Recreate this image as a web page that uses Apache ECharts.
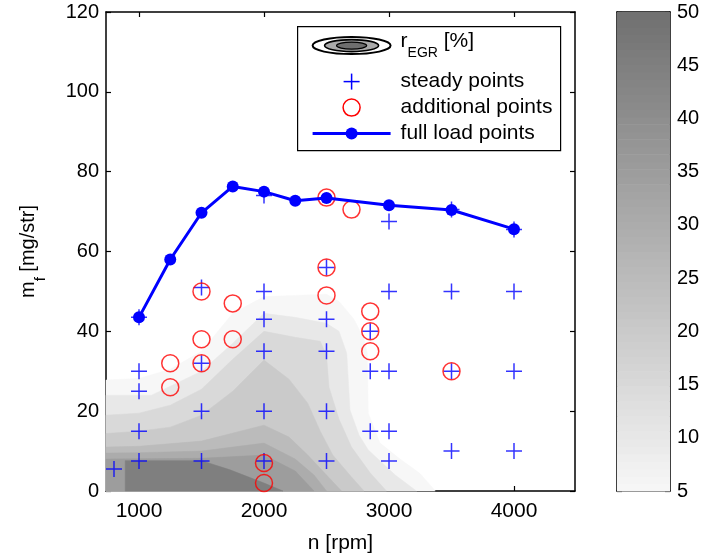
<!DOCTYPE html>
<html>
<head>
<meta charset="utf-8">
<script src="https://cdn.jsdelivr.net/npm/echarts@6/dist/echarts.min.js"></script>
<style>
  html, body { margin: 0; padding: 0; background: #ffffff; }
  #chart { width: 708px; height: 559px; }
</style>
</head>
<body>
<div id="chart"></div>
<script>
// ---- axis ticks ----
const speedTicks = [1000, 2000, 3000, 4000];
const fuelTicks = [0, 20, 40, 60, 80, 100, 120];
const egrTicks = [5, 10, 15, 20, 25, 30, 35, 40, 45, 50];

// ---- steady-state operating points (n [rpm], m_f [mg/str]) ----
const steadyN = [800, 1000, 1000, 1000, 1000, 1000,
  1500, 1500, 1500, 1500,
  2000, 2000, 2000, 2000, 2000, 2000,
  2500, 2500, 2500, 2500, 2500,
  2850, 2850, 2850,
  3000, 3000, 3000, 3000, 3000,
  3500, 3500, 3500, 3500,
  4000, 4000, 4000, 4000];
const steadyM = [5.5, 7.5, 15, 25, 30, 43.5,
  7.5, 20, 32, 51,
  7.5, 20, 35, 43, 50, 74,
  7.5, 20, 35, 43, 56,
  15, 30, 40,
  7.5, 15, 30, 50, 67.5,
  10, 30, 50, 70.5,
  10, 30, 50, 65.5];

// ---- additional measurement points ----
const additionalN = [1250, 1250, 1500, 1500, 1500, 1750, 1750, 2000, 2000,
  2500, 2500, 2500, 2700, 2850, 2850, 2850, 3500];
const additionalM = [32, 26, 50, 38, 32, 47, 38, 7, 2,
  56, 49, 73.5, 70.5, 45, 40, 35, 30];

// ---- full load curve ----
const fullLoadN = [1000, 1250, 1500, 1750, 2000, 2250, 2500, 3000, 3500, 4000];
const fullLoadM = [43.5, 58, 69.7, 76.3, 75, 72.7, 73.4, 71.6, 70.4, 65.6];

// ---- EGR-rate iso-lines r_EGR [%]; each traced left to right down to m_f = 0 ----
const egrLevels = [5, 10, 15, 20, 25, 30, 35, 45];
const egrIso5 = [[736, 27.8], [1000, 28.2], [1250, 30.5], [1500, 35], [1750, 44.5], [2000, 48.7], [2250, 49], [2500, 49.3], [2600, 47.5], [2720, 43], [2800, 38], [2826, 34.5], [2834, 19.5], [2928, 12], [3088, 8], [3248, 4.4], [3370, 0]];
const egrIso10 = [[736, 24], [1100, 24], [1500, 30], [1750, 37], [2000, 44.5], [2250, 43.5], [2500, 42], [2600, 40], [2662, 34.5], [2688, 20.3], [2760, 14], [2834, 10.3], [3050, 4], [3220, 0]];
const egrIso15 = [[736, 19], [1000, 19.5], [1250, 21.5], [1500, 25.5], [1750, 33], [2000, 40], [2250, 38.5], [2450, 37.5], [2500, 34], [2520, 26], [2600, 18], [2700, 11], [2850, 4.5], [2980, 0]];
const egrIso20 = [[736, 14.4], [1000, 15], [1250, 16], [1500, 19], [1750, 25], [2000, 32.8], [2200, 28], [2350, 22], [2450, 15], [2550, 9], [2700, 3.5], [2800, 0]];
const egrIso25 = [[736, 11], [1000, 11.2], [1500, 12.5], [2000, 16.5], [2200, 13.5], [2350, 9], [2500, 4], [2620, 0]];
const egrIso30 = [[736, 9.5], [1000, 9.6], [1500, 10], [2000, 12], [2250, 8], [2400, 4], [2500, 0]];
const egrIso35 = [[736, 8], [1500, 8.2], [2000, 9], [2250, 5], [2400, 0]];
const egrIso45 = [[890, 0], [890, 7.6], [1500, 7.6], [1728, 5.3], [2000, 2], [2152, 0]];
const egrIsoLines = [egrIso5, egrIso10, egrIso15, egrIso20, egrIso25, egrIso30, egrIso35, egrIso45];

// ---- gray colormap for r_EGR between 5 % and 50 % ----
const cMin = 5, cMax = 50;
function grayOf(v) {
  const t = Math.min(1, Math.max(0, (v - cMin) / (cMax - cMin)));
  const g = Math.round(247 - t * (247 - 112));
  return 'rgb(' + g + ',' + g + ',' + g + ')';
}
const mapSteps = 64;
const colorbarSteps = [];
for (let k = 0; k < mapSteps; k++) colorbarSteps.push(k);

const FONT = '"Liberation Sans", Arial, Helvetica, sans-serif';
const FS = 20;
const xMin = 736, xMax = 4488;

// closes an iso-line along the bottom edge into a filled region
function regionOf(line) {
  const pts = line.slice();
  const first = line[0], last = line[line.length - 1];
  if (last[1] !== 0) pts.push([last[0], 0]);
  if (first[1] !== 0) pts.push([first[0], 0]);
  return pts;
}

const chart = echarts.init(document.getElementById('chart'), null, { renderer: 'canvas' });

const axisLineStyle = { color: '#000', width: 1.5 };
const tickInside = { show: true, inside: true, length: 5, lineStyle: { color: '#000', width: 1.2 } };
const plainNumber = function (v) { return String(v); };

const option = {
  animation: false,
  backgroundColor: '#fff',
  grid: [
    { left: 106, right: 133, top: 12, bottom: 68, containLabel: false },
    { left: 617, right: 38, top: 12, bottom: 68, containLabel: false }
  ],
  xAxis: [
    {
      type: 'value', gridIndex: 0, min: xMin, max: xMax, position: 'bottom',
      name: 'n [rpm]', nameLocation: 'middle', nameGap: 42,
      nameTextStyle: { fontFamily: FONT, fontSize: 21, color: '#000' },
      axisLine: { show: true, onZero: false, lineStyle: axisLineStyle },
      axisTick: Object.assign({ customValues: speedTicks }, tickInside),
      axisLabel: { customValues: speedTicks, formatter: plainNumber, fontFamily: FONT, fontSize: 21, color: '#000', margin: 10 },
      splitLine: { show: false }
    },
    {
      type: 'value', gridIndex: 0, min: xMin, max: xMax, position: 'top',
      axisLine: { show: true, onZero: false, lineStyle: axisLineStyle },
      axisTick: Object.assign({ customValues: speedTicks }, tickInside),
      axisLabel: { show: false },
      splitLine: { show: false }
    },
    {
      type: 'value', gridIndex: 1, min: 0, max: 1, position: 'bottom',
      axisLine: { show: true, onZero: false, lineStyle: axisLineStyle },
      axisTick: { show: false }, axisLabel: { show: false }, splitLine: { show: false }
    },
    {
      type: 'value', gridIndex: 1, min: 0, max: 1, position: 'top',
      axisLine: { show: true, onZero: false, lineStyle: axisLineStyle },
      axisTick: { show: false }, axisLabel: { show: false }, splitLine: { show: false }
    }
  ],
  yAxis: [
    {
      type: 'value', gridIndex: 0, min: 0, max: 120, interval: 20, position: 'left',
      name: '{m|m}{f|f}{m| [mg/str]}', nameLocation: 'middle', nameGap: 58, nameRotate: 90,
      nameTextStyle: {
        fontFamily: FONT, color: '#000',
        rich: {
          m: { fontFamily: FONT, fontSize: FS, lineHeight: 30, verticalAlign: 'top', color: '#000' },
          f: { fontFamily: FONT, fontSize: 15, lineHeight: 15, verticalAlign: 'bottom', color: '#000' }
        }
      },
      axisLine: { show: true, onZero: false, lineStyle: axisLineStyle },
      axisTick: tickInside,
      axisLabel: { formatter: plainNumber, fontFamily: FONT, fontSize: FS, color: '#000', margin: 7 },
      splitLine: { show: false }
    },
    {
      type: 'value', gridIndex: 0, min: 0, max: 120, interval: 20, position: 'right',
      axisLine: { show: true, onZero: false, lineStyle: axisLineStyle },
      axisTick: tickInside,
      axisLabel: { show: false },
      splitLine: { show: false }
    },
    {
      type: 'value', gridIndex: 1, min: 5, max: 50, interval: 5, position: 'right',
      axisLine: { show: true, onZero: false, lineStyle: axisLineStyle },
      axisTick: tickInside,
      axisLabel: { formatter: plainNumber, fontFamily: FONT, fontSize: FS, color: '#000', margin: 7 },
      splitLine: { show: false }
    },
    {
      type: 'value', gridIndex: 1, min: 5, max: 50, interval: 5, position: 'left',
      axisLine: { show: true, onZero: false, lineStyle: axisLineStyle },
      axisTick: tickInside,
      axisLabel: { show: false },
      splitLine: { show: false }
    }
  ],
  series: [
    {
      // filled EGR-rate contours, lowest level first
      type: 'custom',
      name: 'rEGR',
      xAxisIndex: 0, yAxisIndex: 0,
      coordinateSystem: 'cartesian2d',
      silent: true,
      z: 1,
      data: egrLevels.map(function (lv, i) { return [xMin, 0, i]; }),
      encode: { x: 0, y: 1 },
      renderItem: function (params, api) {
        const i = params.dataIndex;
        const pts = regionOf(egrIsoLines[i]).map(function (p) { return api.coord(p); });
        return {
          type: 'polygon',
          shape: { points: pts },
          style: { fill: grayOf(egrLevels[i]), stroke: grayOf(egrLevels[i]), lineWidth: 0.5 }
        };
      }
    },
    {
      type: 'scatter', name: 'steady points',
      xAxisIndex: 0, yAxisIndex: 0, z: 3,
      symbol: 'path://M5,0 L5,10 M0,5 L10,5',
      symbolSize: 16,
      itemStyle: { color: 'none', borderColor: '#0000ff', borderWidth: 1.5 },
      data: steadyN.map(function (n, i) { return [n, steadyM[i]]; })
    },
    {
      type: 'scatter', name: 'additional points',
      xAxisIndex: 0, yAxisIndex: 0, z: 4,
      symbol: 'circle', symbolSize: 17,
      itemStyle: { color: 'none', borderColor: '#ff0000', borderWidth: 1.5 },
      data: additionalN.map(function (n, i) { return [n, additionalM[i]]; })
    },
    {
      type: 'line', name: 'full load points',
      xAxisIndex: 0, yAxisIndex: 0, z: 5,
      symbol: 'circle', symbolSize: 12, showSymbol: true,
      lineStyle: { color: '#0000ff', width: 3 },
      itemStyle: { color: '#0000ff', borderWidth: 0 },
      data: fullLoadN.map(function (n, i) { return [n, fullLoadM[i]]; })
    },
    {
      // colour bar built from the colormap steps
      type: 'custom', name: 'colorbar',
      xAxisIndex: 2, yAxisIndex: 2,
      coordinateSystem: 'cartesian2d',
      silent: true, z: 1,
      data: colorbarSteps.map(function (k) { return [0, cMin, k]; }),
      encode: { x: 0, y: 1 },
      renderItem: function (params, api) {
        const k = params.dataIndex;
        const h = (cMax - cMin) / mapSteps;
        const v0 = cMin + k * h, v1 = v0 + h;
        const p0 = api.coord([0, v1]);
        const p1 = api.coord([1, v0]);
        return {
          type: 'rect',
          shape: { x: p0[0], y: p0[1], width: p1[0] - p0[0], height: p1[1] - p0[1] + 0.6 },
          style: { fill: grayOf(v0 + h / 2) }
        };
      }
    }
  ],
  graphic: [
    {
      type: 'group', left: 297, top: 26, z: 10,
      children: [
        { type: 'rect', shape: { x: 0, y: 0, width: 263, height: 124 },
          style: { fill: '#fff', stroke: '#000', lineWidth: 1.2 } },
        { type: 'ellipse', shape: { cx: 54, cy: 19, rx: 39, ry: 8.5 },
          style: { fill: '#fff', stroke: '#000', lineWidth: 2 } },
        { type: 'ellipse', shape: { cx: 54, cy: 19, rx: 27, ry: 6 },
          style: { fill: '#aaaaaa', stroke: '#000', lineWidth: 1.6 } },
        { type: 'ellipse', shape: { cx: 54, cy: 19, rx: 15, ry: 3.5 },
          style: { fill: '#6e6e6e', stroke: '#000', lineWidth: 1.4 } },
        { type: 'text', x: 103, y: 19,
          style: {
            text: '{m|r}{s|EGR}{m| [%]}', textVerticalAlign: 'middle',
            rich: {
              m: { fontFamily: FONT, fontSize: 21, lineHeight: 30, verticalAlign: 'top', fill: '#000' },
              s: { fontFamily: FONT, fontSize: 14, lineHeight: 14, verticalAlign: 'bottom', fill: '#000' }
            }
          } },
        { type: 'line', shape: { x1: 54, y1: 47, x2: 54, y2: 63 },
          style: { stroke: '#0000ff', lineWidth: 1.5 } },
        { type: 'line', shape: { x1: 46, y1: 55, x2: 62, y2: 55 },
          style: { stroke: '#0000ff', lineWidth: 1.5 } },
        { type: 'text', x: 103, y: 55,
          style: { text: 'steady points', font: '21px ' + FONT, fill: '#000', textVerticalAlign: 'middle' } },
        { type: 'circle', shape: { cx: 54, cy: 81, r: 8.5 },
          style: { fill: 'none', stroke: '#ff0000', lineWidth: 1.5 } },
        { type: 'text', x: 103, y: 81,
          style: { text: 'additional points', font: '21px ' + FONT, fill: '#000', textVerticalAlign: 'middle' } },
        { type: 'line', shape: { x1: 15, y1: 107, x2: 93, y2: 107 },
          style: { stroke: '#0000ff', lineWidth: 3 } },
        { type: 'circle', shape: { cx: 54, cy: 107, r: 6 },
          style: { fill: '#0000ff' } },
        { type: 'text', x: 103, y: 107,
          style: { text: 'full load points', font: '21px ' + FONT, fill: '#000', textVerticalAlign: 'middle' } }
      ]
    }
  ]
};

chart.setOption(option);
</script>
</body>
</html>
